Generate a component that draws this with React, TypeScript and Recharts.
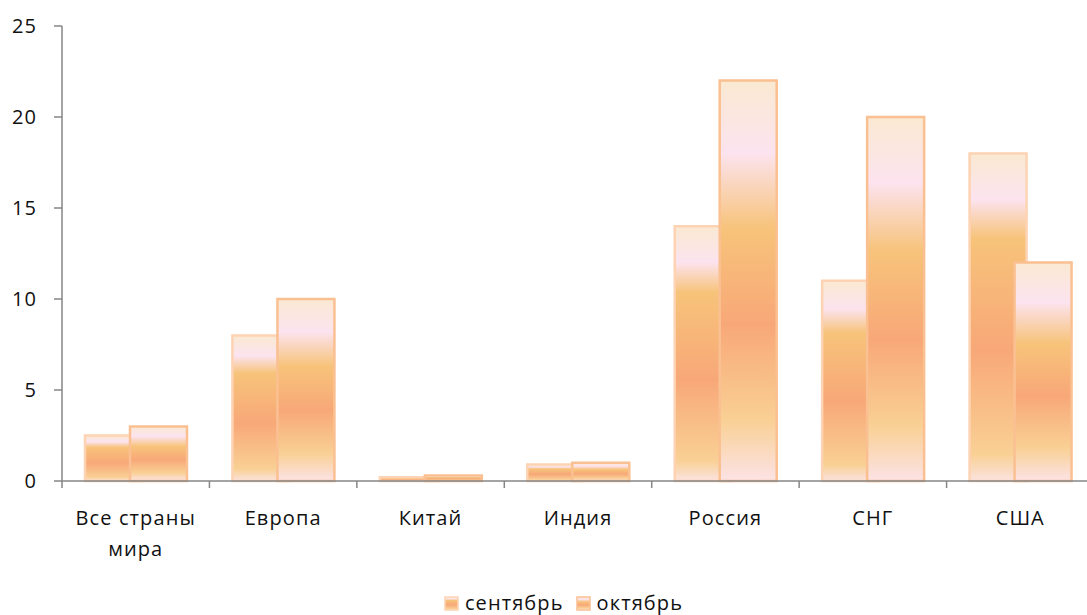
import { BarChart, Bar, XAxis, YAxis } from "recharts"

const categories = ["Все страны мира", "Европа", "Китай", "Индия", "Россия", "СНГ", "США"]
const september = [2.5, 8, 0.2, 0.9, 14, 11, 18]
const october = [3, 10, 0.3, 1, 22, 20, 12]
const seriesNames = ["сентябрь", "октябрь"]
const yTicks = [0, 5, 10, 15, 20, 25]

const chartData = categories.map((name, i) => ({
  name,
  sep: september[i],
  oct: october[i],
}))

const font = "'Open Sans', sans-serif"
const textStyle = { fontSize: 20, fontFamily: font, letterSpacing: 1.1 }

// greedy word wrap by character count
function wrap(label: string, maxChars = 11) {
  const lines: string[] = []
  let cur = ""
  for (const w of label.split(" ")) {
    const next = cur ? cur + " " + w : w
    if (next.length > maxChars && cur) {
      lines.push(cur)
      cur = w
    } else {
      cur = next
    }
  }
  if (cur) lines.push(cur)
  return lines
}

// x axis: labels at band centre, tick marks on band boundaries
function CategoryTick(props: any) {
  const { x, y, payload } = props
  const off = payload.offset || 0
  const lines = wrap(String(payload.value))
  return (
    <g>
      <line x1={x - off} y1={y} x2={x - off} y2={y + 7} stroke="#868686" strokeWidth={1.5} />
      <text x={x} y={y + 44} textAnchor="middle" fill="#111" style={textStyle}>
        {lines.map((l, i) => (
          <tspan key={i} x={x} dy={i === 0 ? 0 : 31}>
            {l}
          </tspan>
        ))}
      </text>
    </g>
  )
}

function Swatch({ id, stroke }: { id: string; stroke: string }) {
  return (
    <svg width={15} height={15} style={{ display: "block" }}>
      <rect x={1} y={1} width={13} height={13} fill={`url(#${id})`} stroke={stroke} strokeWidth={1.5} />
    </svg>
  )
}

export default function App() {
  return (
    <div style={{ position: "absolute", left: 0, top: 0, width: 1087, height: 615, overflow: "hidden", background: "#fff" }}>
      <BarChart
        width={1112}
        height={615}
        data={chartData}
        margin={{ top: 26, right: 18, left: 0, bottom: 0 }}
        barSize={57}
        barGap={-12}
      >
        <defs>
          <linearGradient id="gSep" x1="0" y1="0" x2="0" y2="1">
            <stop offset="0%" stopColor="#FAE9D2" />
            <stop offset="8%" stopColor="#FBE6E2" />
            <stop offset="14%" stopColor="#FCE3EF" />
            <stop offset="26%" stopColor="#F7C37A" />
            <stop offset="60%" stopColor="#F8A878" />
            <stop offset="92%" stopColor="#F9D095" />
            <stop offset="100%" stopColor="#FBE3E0" />
          </linearGradient>
          <linearGradient id="gOct" x1="0" y1="0" x2="0" y2="1">
            <stop offset="0%" stopColor="#FAE9D2" />
            <stop offset="10%" stopColor="#FBE6E2" />
            <stop offset="18%" stopColor="#FCE3EF" />
            <stop offset="37%" stopColor="#F7C37A" />
            <stop offset="61%" stopColor="#F8A878" />
            <stop offset="85%" stopColor="#F9D095" />
            <stop offset="100%" stopColor="#FCE3E6" />
          </linearGradient>
        </defs>
        <XAxis
          dataKey="name"
          interval={0}
          axisLine={{ stroke: "#868686", strokeWidth: 1.5 }}
          tickLine={false}
          tickSize={0}
          tickMargin={0}
          height={134}
          tick={<CategoryTick />}
        />
        <YAxis
          domain={[0, 25]}
          ticks={yTicks}
          width={62}
          axisLine={{ stroke: "#868686", strokeWidth: 1.5 }}
          tickLine={{ stroke: "#868686", strokeWidth: 1.5 }}
          tickSize={8}
          tickMargin={17}
          tick={{ fill: "#111", ...textStyle }}
        />
        <Bar dataKey="sep" name={seriesNames[0]} fill="url(#gSep)" stroke="#FDD3B3" strokeWidth={2.5} isAnimationActive={false} />
        <Bar dataKey="oct" name={seriesNames[1]} fill="url(#gOct)" stroke="#FAC092" strokeWidth={2.5} isAnimationActive={false} />
      </BarChart>
      <div
        style={{
          position: "absolute",
          top: 593,
          left: 0,
          width: 1127,
          height: 20,
          lineHeight: "20px",
          display: "flex",
          justifyContent: "center",
          alignItems: "center",
          color: "#111",
          gap: 12,
          ...textStyle,
        }}
      >
        {seriesNames.map((s, i) => (
          <div key={s} style={{ display: "flex", alignItems: "center", gap: 6 }}>
            <Swatch id={i === 0 ? "gSep" : "gOct"} stroke={i === 0 ? "#FDD3B3" : "#FAC092"} />
            <span>{s}</span>
          </div>
        ))}
      </div>
    </div>
  )
}
